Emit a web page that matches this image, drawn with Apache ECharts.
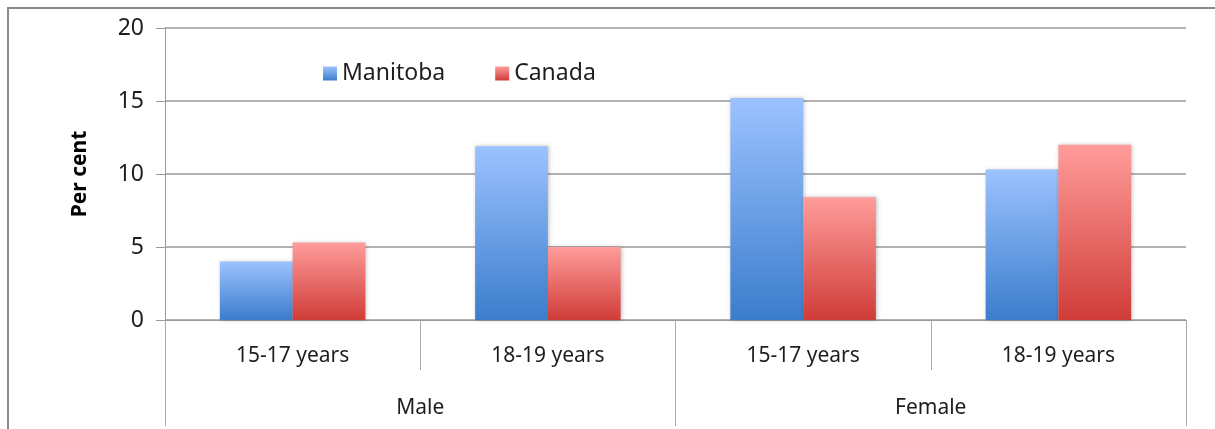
<!DOCTYPE html>
<html>
<head>
<meta charset="utf-8">
<script src="https://cdn.jsdelivr.net/npm/echarts@6/dist/echarts.min.js"></script>
<style>
  html, body { margin: 0; padding: 0; background: #fff; }
  #main { width: 1215px; height: 429px; }
</style>
</head>
<body>
<div id="main"></div>
<script>
// data
var sexes = ['Male', 'Female'];
var ageGroups = ['15-17 years', '18-19 years'];
var manitoba = [4.0, 11.9, 15.2, 10.3];
var canada = [5.3, 5.0, 8.4, 12.0];
var yTicks = [0, 5, 10, 15, 20];

// one category per sex/age pair
var categories = [];
sexes.forEach(function (s) {
    ageGroups.forEach(function (a) { categories.push(a); });
});

var font = 'Noto Sans';
var textColor = '#1e1e1e';

function grad(top, bottom) {
    return new echarts.graphic.LinearGradient(0, 0, 0, 1, [
        { offset: 0, color: top },
        { offset: 1, color: bottom }
    ]);
}

var myChart = echarts.init(document.getElementById('main'));

var option = {
    backgroundColor: '#fff',
    animation: false,
    textStyle: { fontFamily: font },
    graphic: [{
        type: 'rect',
        shape: { x: 8, y: 8, width: 1400, height: 600 },
        style: { fill: 'none', stroke: '#8a8a8a', lineWidth: 2 },
        silent: true
    }],
    legend: {
        data: ['Manitoba', 'Canada'],
        icon: 'rect',
        left: 318,
        top: 57,
        itemWidth: 14,
        itemHeight: 14,
        itemGap: 50,
        textStyle: { fontFamily: font, fontSize: 23, color: textColor }
    },
    grid: { left: 165, right: 29, top: 28, bottom: 109 },
    xAxis: [{
        type: 'category',
        data: categories,
        position: 'bottom',
        axisLine: { show: true, lineStyle: { color: '#999', width: 1 } },
        axisTick: { show: true, inside: false, alignWithLabel: false, interval: 0, length: 50, lineStyle: { color: '#aaa', width: 1 } },
        axisLabel: { interval: 0, margin: 26, fontFamily: font, fontSize: 21, color: textColor }
    }, {
        type: 'category',
        data: sexes,
        position: 'bottom',
        axisLine: { show: false },
        axisTick: { show: true, inside: false, interval: 0, length: 106, lineStyle: { color: '#aaa', width: 1 } },
        axisLabel: { interval: 0, margin: 78, fontFamily: font, fontSize: 21, color: textColor }
    }],
    yAxis: {
        type: 'value',
        min: yTicks[0],
        max: yTicks[yTicks.length - 1],
        interval: 5,
        name: 'Per cent',
        nameLocation: 'middle',
        nameRotate: 90,
        nameGap: 74,
        nameTextStyle: { fontFamily: font, fontSize: 21, fontWeight: 'bold', color: '#000' },
        axisLine: { show: true, lineStyle: { color: '#999' } },
        axisTick: { show: true, inside: false, length: 9, lineStyle: { color: '#999', width: 1 } },
        axisLabel: { margin: 21, fontFamily: font, fontSize: 23, color: textColor },
        splitLine: { lineStyle: { color: '#9a9a9a', width: 1.5 } }
    },
    series: [{
        name: 'Manitoba',
        type: 'bar',
        data: manitoba,
        barGap: '0%',
        barCategoryGap: '43%',
        itemStyle: {
            color: grad('#9cc2ff', '#3b7dcc'),
            shadowColor: 'rgba(0,0,0,0.25)',
            shadowBlur: 4,
            shadowOffsetX: 1
        }
    }, {
        name: 'Canada',
        type: 'bar',
        data: canada,
        barGap: '0%',
        barCategoryGap: '43%',
        itemStyle: {
            color: grad('#ff9c9a', '#cf3c38'),
            shadowColor: 'rgba(0,0,0,0.25)',
            shadowBlur: 4,
            shadowOffsetX: 1
        }
    }]
};

myChart.setOption(option);
</script>
</body>
</html>
